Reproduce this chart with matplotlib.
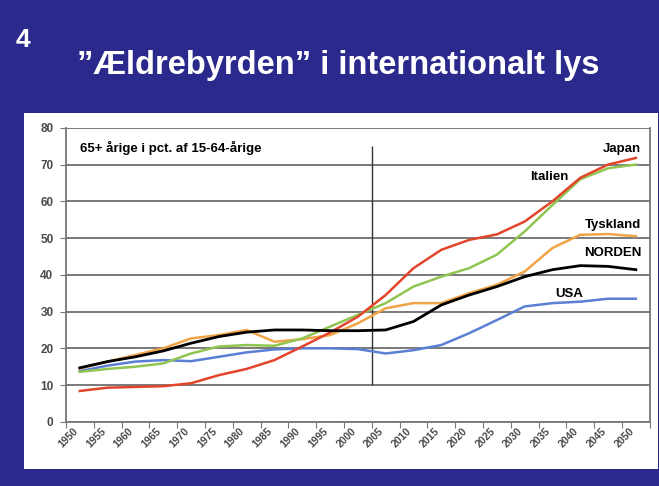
import matplotlib.pyplot as plt
from matplotlib.patches import Rectangle

# Data (65+ year olds as % of 15-64 year olds)
years = ['1950', '1955', '1960', '1965', '1970', '1975', '1980', '1985', '1990', '1995', '2000',
         '2005', '2010', '2015', '2020', '2025', '2030', '2035', '2040', '2045', '2050']
japan = [8.4, 9.3, 9.5, 9.7, 10.5, 12.7, 14.4, 16.8, 20.5, 24.3, 28.6,
         34.5, 41.8, 46.8, 49.5, 51.0, 54.5, 60.0, 66.4, 70.0, 71.8]
italien = [13.6, 14.4, 15.0, 15.9, 18.6, 20.5, 20.9, 20.7, 22.7, 25.9, 29.1,
           32.3, 36.8, 39.5, 41.8, 45.5, 51.8, 59.0, 66.0, 69.0, 70.0]
tyskland = [14.5, 16.4, 18.2, 20.0, 22.7, 23.6, 25.0, 21.8, 22.5, 23.6, 26.8,
            30.9, 32.3, 32.3, 35.0, 37.3, 40.9, 47.3, 50.9, 51.1, 50.5]
norden = [14.7, 16.4, 17.7, 19.3, 21.4, 23.2, 24.4, 25.0, 25.0, 24.8, 24.8,
          25.0, 27.3, 31.8, 34.5, 36.8, 39.5, 41.4, 42.5, 42.3, 41.4]
usa = [13.8, 15.3, 16.4, 16.8, 16.5, 17.7, 18.9, 19.7, 20.0, 20.0, 19.8,
       18.6, 19.5, 20.9, 24.1, 27.7, 31.4, 32.3, 32.7, 33.5, 33.5]

bg = '#2b2a8c'
fig = plt.figure(figsize=(6.59, 4.86), dpi=100, facecolor=bg)

# White panel behind the chart
fig.patches.append(Rectangle((0.036, 0.035), 0.962, 0.733, transform=fig.transFigure,
                             facecolor='white', edgecolor='none', zorder=-10))

# Slide number and title
fig.text(0.024, 0.918, '4', color='white', fontsize=19, fontweight='bold',
         family='Liberation Sans', va='center')
fig.text(0.513, 0.866, '”Ældrebyrden” i internationalt lys', color='white', fontsize=23.5,
         fontweight='bold', family='Liberation Sans', ha='center', va='center')

ax = fig.add_axes([0.100, 0.132, 0.886, 0.605])
ax.set_facecolor('white')
x = list(range(len(years)))

ax.plot(x, usa, color='#5b7fd4', lw=1.8, zorder=3)
ax.plot(x, tyskland, color='#f0a445', lw=1.8, zorder=3)
ax.plot(x, italien, color='#8fc550', lw=1.8, zorder=3)
ax.plot(x, japan, color='#e2452b', lw=1.8, zorder=4)
ax.plot(x, norden, color='black', lw=2.0, zorder=5)

# Divider between history and projection
ax.vlines(10.5, 10, 75, color='#333333', lw=1.0, zorder=2)

ax.set_xlim(-0.5, 20.5)
ax.set_ylim(0, 80)
ax.set_yticks(range(0, 81, 10))
ax.yaxis.grid(True, color='#707070', lw=1.3)
ax.set_axisbelow(True)

ax.set_xticks([i - 0.5 for i in range(len(years) + 1)], minor=False)
ax.set_xticklabels([])
ax.set_xticks(x, minor=True)
ax.set_xticklabels(years, minor=True, rotation=45, ha='right', va='top',
                   fontsize=7.5, fontweight='bold', color='#4a4a4a', family='Liberation Sans')
ax.tick_params(axis='x', which='minor', length=0, pad=3)
ax.tick_params(axis='x', which='major', length=4, color='#777777', direction='out')
ax.tick_params(axis='y', length=4, color='#777777', labelsize=8.5, labelcolor='#4a4a4a', pad=5)
for lab in ax.get_yticklabels():
    lab.set_fontweight('bold')
    lab.set_family('Liberation Sans')

for side in ['left', 'bottom', 'right']:
    ax.spines[side].set_color('#777777')
    ax.spines[side].set_linewidth(1.3)
ax.spines['top'].set_visible(False)

font = 'Liberation Sans'
ax.text(0.0, 74.5, '65+ årige i pct. af 15-64-årige', fontsize=9.5, fontweight='bold',
        family=font, va='center')
ax.text(20.2, 74.3, 'Japan', fontsize=9.5, fontweight='bold', family=font, ha='right', va='center')
ax.text(16.9, 66.6, 'Italien', fontsize=9.5, fontweight='bold', family=font, ha='center', va='center')
ax.text(20.2, 53.6, 'Tyskland', fontsize=9.5, fontweight='bold', family=font, ha='right', va='center')
ax.text(20.2, 45.9, 'NORDEN', fontsize=9.5, fontweight='bold', family=font, ha='right', va='center')
ax.text(17.6, 34.9, 'USA', fontsize=9.5, fontweight='bold', family=font, ha='center', va='center')

fig.savefig('out.png', dpi=100, facecolor=bg)
